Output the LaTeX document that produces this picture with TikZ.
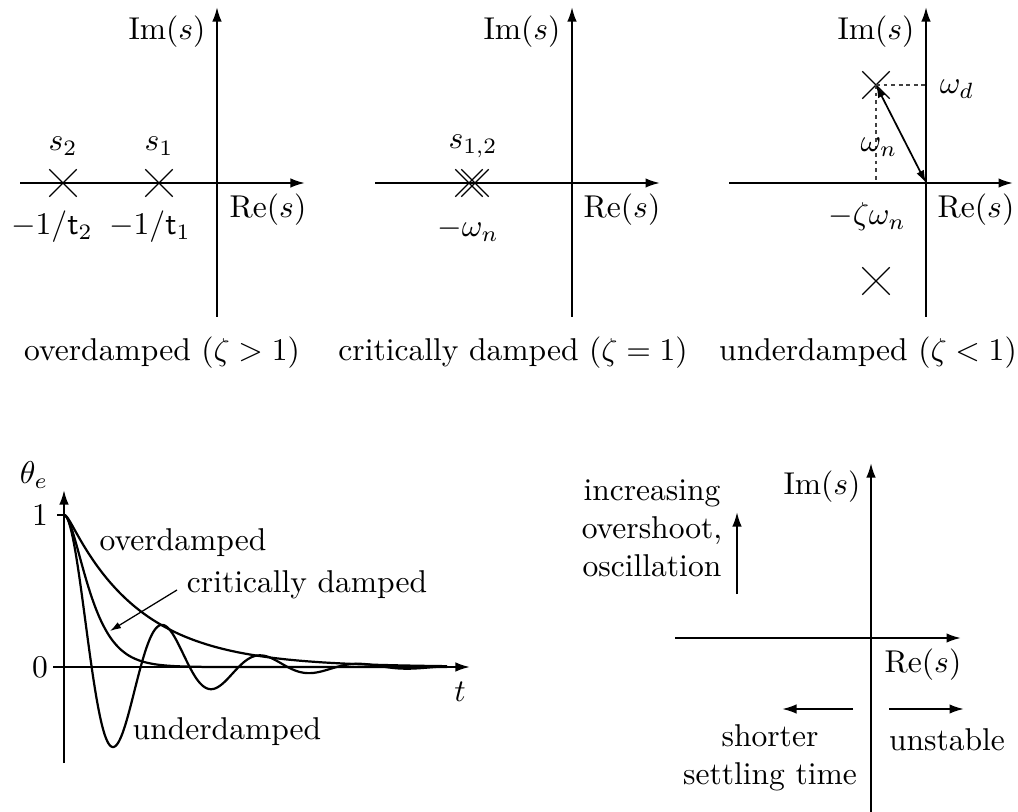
\documentclass[tikz,border=0pt]{standalone}
\usetikzlibrary{arrows.meta,shapes.misc}
\begin{document}
\begin{tikzpicture}[x=0.317pt,y=-0.317pt,
  axis/.style={line width=0.65pt,-{Latex[length=4.6pt,width=3pt]}},
  plain/.style={line width=0.65pt},
  pole/.style={cross out,draw,line width=0.35pt,minimum size=8.3pt,inner sep=0pt},
  lbl/.style={inner sep=0pt},
  guide/.style={line width=0.35pt,dash pattern=on 1.2pt off 1.2pt,darkgray},
  curve/.style={line width=0.7pt},
  thinarrow/.style={line width=0.4pt,-{Latex[length=3.5pt,width=2.2pt]}}]
\useasboundingbox (0,0) rectangle (1018,812);

% ---------- panel 1: overdamped ----------
\coordinate (ima) at (217,317);
\coordinate (imb) at (217,7);
\coordinate (rea) at (20,183);
\coordinate (reb) at (305,183);
\draw[axis] (rea) -- (reb);
\draw[axis] (ima) -- (imb);
\node[pole] (p1a) at (63,183) {};
\node[pole] (p1b) at (159,183) {};
\node[lbl] (s2) at (63,146) {$s_2$};
\node[lbl] (s1) at (159,146) {$s_1$};
\node[lbl] (t2) at (52,227) {$-1/\mathsf{t}_2$};
\node[lbl] (t1) at (150,227) {$-1/\mathsf{t}_1$};
\node[lbl] (im1) at (167,32) {$\mathrm{Im}(s)$};
\node[lbl] (re1) at (268,210) {$\mathrm{Re}(s)$};
\node[lbl] (cap1) at (162,353) {overdamped $(\zeta>1)$};

% ---------- panel 2: critically damped ----------
\coordinate (imc) at (572,317);
\coordinate (imd) at (572,7);
\coordinate (rec) at (375,183);
\coordinate (red) at (660,183);
\draw[axis] (rec) -- (red);
\draw[axis] (imc) -- (imd);
\node[pole] (p2a) at (469,183) {};
\node[pole] (p2b) at (475,183) {};
\node[lbl] (s12) at (473,146) {$s_{1,2}$};
\node[lbl] (wn2) at (468,230) {$-\omega_n$};
\node[lbl] (im2) at (522,32) {$\mathrm{Im}(s)$};
\node[lbl] (re2) at (622,210) {$\mathrm{Re}(s)$};
\node[lbl] (cap2) at (513,353) {critically damped $(\zeta=1)$};

% ---------- panel 3: underdamped ----------
\coordinate (ime) at (926,317);
\coordinate (imf) at (926,7);
\coordinate (ree) at (729,183);
\coordinate (ref) at (1013,183);
\coordinate (o3) at (926,183);
\coordinate (wdp) at (926,85);
\coordinate (zwp) at (876,183);
\draw[axis] (ree) -- (ref);
\draw[axis] (ime) -- (imf);
\node[pole] (p3a) at (876,85) {};
\node[pole] (p3b) at (876,281) {};
\draw[guide] (p3a.center) -- (wdp);
\draw[guide] (p3a.center) -- (zwp);
\draw[line width=0.55pt,{Latex[length=4pt,width=2.6pt]}-{Latex[length=4pt,width=2.6pt]}] (p3a.center) -- (o3);
\node[lbl] (wd) at (957,89) {$\omega_d$};
\node[lbl] (wn3) at (879,147) {$\omega_n$};
\node[lbl] (zw) at (867,217) {$-\zeta\omega_n$};
\node[lbl] (im3) at (876,32) {$\mathrm{Im}(s)$};
\node[lbl] (re3) at (976,210) {$\mathrm{Re}(s)$};
\node[lbl] (cap3) at (868,353) {underdamped $(\zeta<1)$};

% ---------- bottom left: time responses ----------
\coordinate (tva) at (64,763);
\coordinate (tvb) at (64,490);
\coordinate (tha) at (53,667);
\coordinate (thb) at (470,667);
\coordinate (tka) at (57,515);
\coordinate (tkb) at (64,515);
\draw[axis] (tva) -- (tvb);
\draw[axis] (tha) -- (thb);
\draw[plain] (tka) -- (tkb);
\node[lbl] (theta) at (34,475) {$\theta_e$};
\node[lbl] (one) at (40,515) {$1$};
\node[lbl] (zero) at (40,667) {$0$};
\node[lbl] (tl) at (460,692) {$t$};
\draw[curve] plot[domain=0:383,samples=300,smooth]
  ({64+\x},{667-152*(0.313*exp(-0.01367*\x)-0.01367*exp(-0.313*min(\x,30)))/0.29933});
\draw[curve] plot[domain=0:383,samples=300,smooth]
  ({64+\x},{667-152*(1+0.0654*min(\x,160))*exp(-0.0654*min(\x,160))});
\draw[curve] plot[domain=0:383,samples=400,smooth]
  ({64+\x},{667-152*exp(-0.01309*\x)*(cos(3.6735*\x)+0.2041*sin(3.6735*\x))});
\node[lbl] (ovl) at (183,543) {overdamped};
\node[lbl] (cdl) at (307,585) {critically damped};
\node[lbl] (udl) at (227,732) {underdamped};
\coordinate (cdtail) at (177,590);
\coordinate (cdtip) at (110,631);
\draw[thinarrow] (cdtail) -- (cdtip);

% ---------- bottom right: s-plane trends ----------
\coordinate (ibr) at (871,812);
\coordinate (itr) at (871,463);
\coordinate (rlr) at (675,638);
\coordinate (rrr) at (961,638);
\draw[axis] (rlr) -- (rrr);
\draw[axis] (ibr) -- (itr);
\node[lbl] (im4) at (822,487) {$\mathrm{Im}(s)$};
\node[lbl] (re4) at (923,665) {$\mathrm{Re}(s)$};
\node[lbl,align=center] (incr) at (652,528) {increasing\\overshoot,\\oscillation};
\coordinate (upa) at (737,594);
\coordinate (upb) at (737,512);
\draw[axis] (upa) -- (upb);
\coordinate (lfa) at (853,709);
\coordinate (lfb) at (782,709);
\draw[axis] (lfa) -- (lfb);
\coordinate (rta) at (889,709);
\coordinate (rtb) at (964,709);
\draw[axis] (rta) -- (rtb);
\node[lbl,align=center] (short) at (770,758) {shorter\\settling time};
\node[lbl] (unst) at (947,740) {unstable};
\end{tikzpicture}
\end{document}
